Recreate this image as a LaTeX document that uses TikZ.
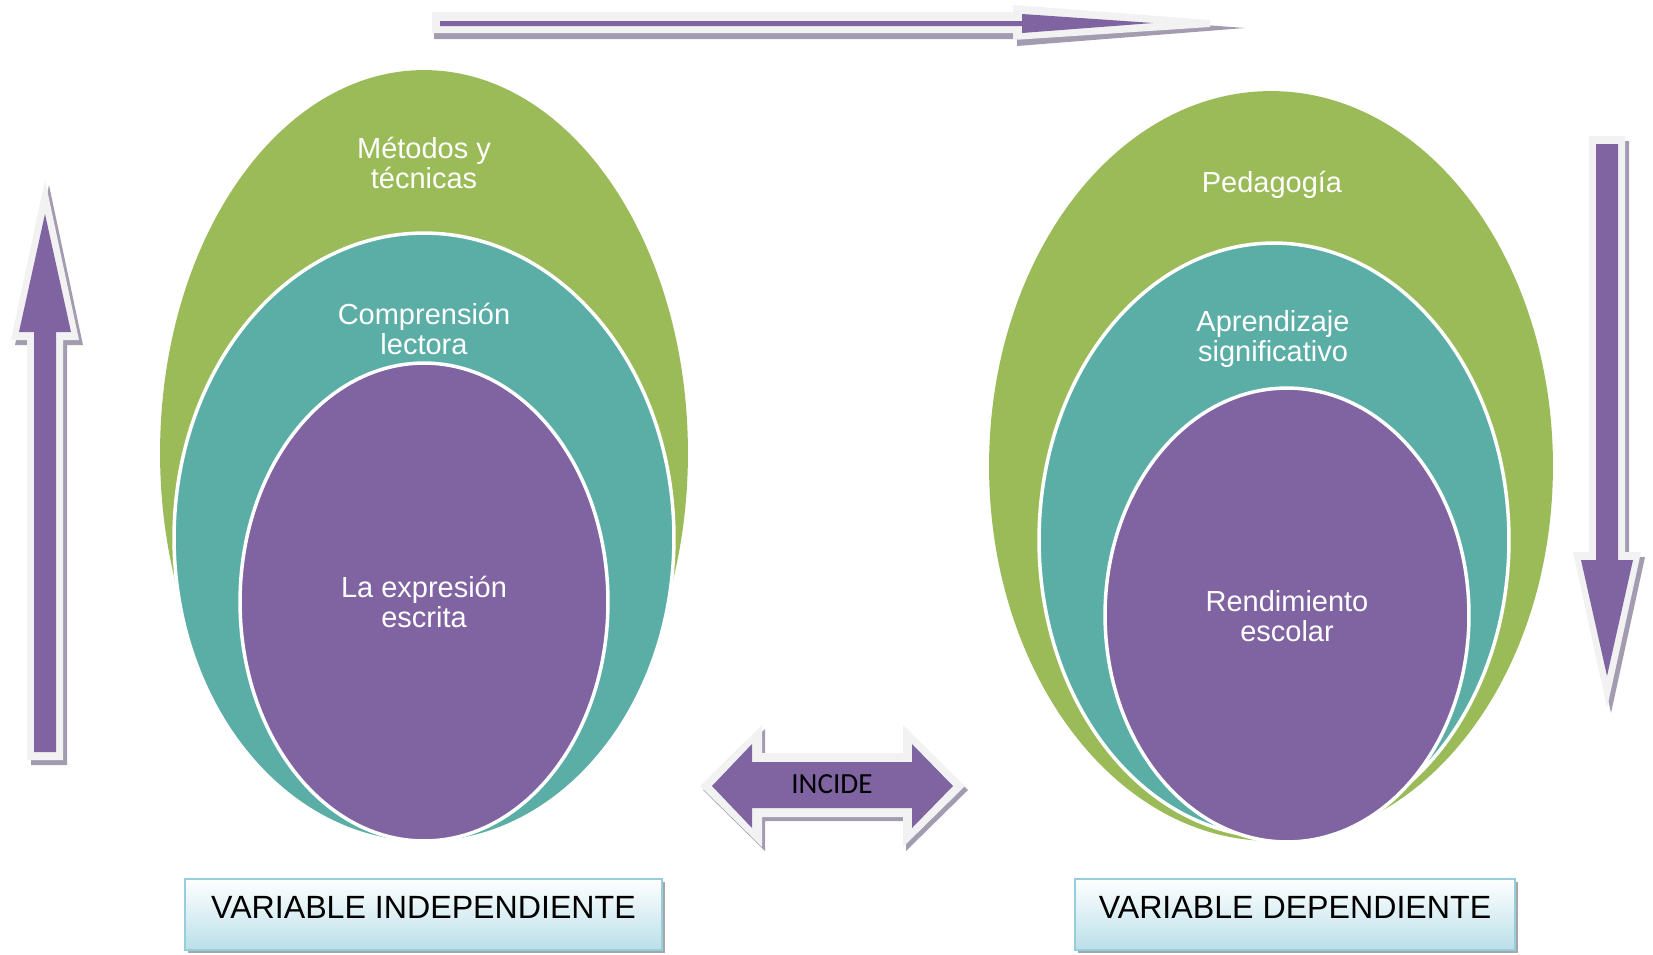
\documentclass[tikz,border=0pt]{standalone}
\usepackage{fontspec}
\setmainfont{Liberation Sans}
\newfontfamily\carlito{Carlito}
\usetikzlibrary{shapes.geometric}
\usetikzlibrary{shadows}
\definecolor{verde}{HTML}{9BBB59}
\definecolor{turquesa}{HTML}{5BAEA6}
\definecolor{lila}{HTML}{8064A2}
\definecolor{claro}{HTML}{F2F2F2}
\definecolor{sombra}{HTML}{A39CB0}
\definecolor{borde}{HTML}{96CEDD}
\definecolor{celeste}{HTML}{BADFE9}
\tikzset{capa/.style={ellipse, inner sep=0pt, outer sep=0pt}}
\tikzset{c1/.style={capa, fill=verde}}
\tikzset{c2/.style={capa, fill=turquesa, draw=white, line width=0.07cm}}
\tikzset{c3/.style={capa, fill=lila, draw=white, line width=0.07cm}}
\tikzset{l/.style={text=white, align=center, font=\fontsize{16.5}{17}\selectfont}}
\tikzset{caja/.style={draw=borde, line width=0.04cm, top color=white, bottom color=celeste,
  minimum height=1.42cm, text height=0.5cm, text depth=0.36cm, font=\fontsize{18.3}{18.3}\selectfont,
  drop shadow={shadow xshift=0.06cm, shadow yshift=-0.06cm, fill=black!35, opacity=1}}}

\begin{document}
\begin{tikzpicture}[x=0.02cm, y=-0.02cm]
\useasboundingbox (0,0) rectangle (1653,954);

\foreach \d/\c in {1/sombra,0/claro} {
  \fill[\c, shift={(4*\d,5*\d)}] (27,760) -- (27,340) -- (11,340) -- (45,180) -- (79,340) -- (63,340) -- (63,760) -- cycle;
  \fill[\c, shift={(4*\d,5*\d)}] (1589,136) -- (1589,552) -- (1573,552) -- (1607,708) -- (1641,552) -- (1625,552) -- (1625,136) -- cycle;
  \fill[\c, shift={(3*\d,4*\d)}] (700,786) -- (762,725) -- (762,753) -- (903,753) -- (903,725) -- (965,786)
    -- (903,847) -- (903,817) -- (762,817) -- (762,847) -- cycle;
}
\fill[sombra] (434,18) -- (1015,18) -- (1015,11) -- (1245,28) -- (1017,46) -- (1017,39) -- (434,39) -- cycle;
\fill[claro] (432,12) -- (1013,12) -- (1013,5) -- (1210,20) -- (1210,27) -- (1013,40) -- (1013,33) -- (432,33) -- cycle;

\fill[lila] (440,21) -- (1022,21) -- (1022,14) -- (1153,23) -- (1022,33) -- (1022,26) -- (440,26) -- cycle;
\fill[lila] (34,752) -- (34,332) -- (19,332) -- (45,214) -- (71,332) -- (56,332) -- (56,752) -- cycle;
\fill[lila] (1596,144) -- (1596,560) -- (1581,560) -- (1607,676) -- (1633,560) -- (1618,560) -- (1618,144) -- cycle;
\fill[lila] (712,786) -- (752,744) -- (752,762) -- (912,762) -- (912,744) -- (953,786)
  -- (912,828) -- (912,808) -- (752,808) -- (752,828) -- cycle;
\node[font=\carlito\fontsize{16.6}{16.6}\selectfont] (inc) at (832,784) {INCIDE};

\node[c1, minimum width=10.56cm, minimum height=15.32cm] (M1) at (424,453) {};
\node[c2, minimum width=10cm, minimum height=12.2cm] (C1) at (424,538) {};
\node[c3, minimum width=7.36cm, minimum height=9.56cm] (E1) at (424,602) {};
\node[l] (tM1) at (424,163) {Métodos y\\técnicas};
\node[l] (tC1) at (424,329) {Comprensión\\lectora};
\node[l] (tE1) at (424,602) {La expresión\\escrita};

\node[c1, minimum width=11.28cm, minimum height=15cm] (M2) at (1271,466) {};
\node[c2, minimum width=9.4cm, minimum height=11.88cm] (C2) at (1274,540) {};
\node[c3, minimum width=7.28cm, minimum height=9.08cm] (E2) at (1287,615) {};
\node[l] (tM2) at (1272,185) {Pedagogía};
\node[l] (tC2) at (1273,339) {Aprendizaje\\significativo};
\node[l] (tE2) at (1287,616) {Rendimiento\\escolar};

\node[caja, minimum width=9.54cm] (VI) at (423.5,914.5) {VARIABLE INDEPENDIENTE};
\node[caja, minimum width=8.8cm] (VD) at (1295,914.5) {VARIABLE DEPENDIENTE};
\end{tikzpicture}
\end{document}
